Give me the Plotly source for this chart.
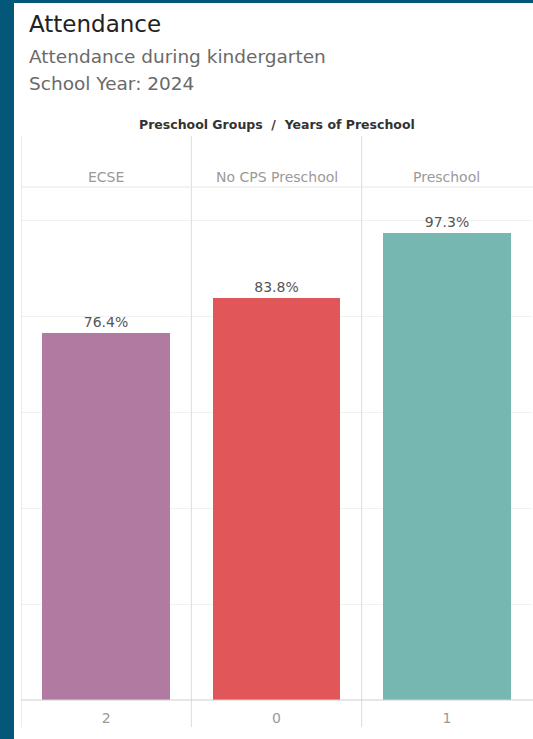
import plotly.graph_objects as go

BORDER = "#03587a"
COLORS = ["#b07aa1", "#e15759", "#76b7b2"]
GRID = "#f0f0f0"
DIVIDER = "#dcdcdc"
FONT = "DejaVu Sans"

groups = ["ECSE", "No CPS Preschool", "Preschool"]
years = ["2", "0", "1"]
attendance = [76.4, 83.8, 97.3]

W, H = 533, 739
L, R, T, B = 21, 1, 187, 39
PW, PH = W - L - R, H - T - B


def px_x(px):
    return (px - L) / PW


def px_y(py):
    return (H - B - py) / PH


pos = list(range(len(groups)))

fig = go.Figure(
    go.Bar(
        x=pos,
        y=attendance,
        width=0.75,
        marker=dict(color=COLORS, line=dict(width=0)),
        text=[f"{v:.1f}%" for v in attendance],
        textposition="outside",
        textfont=dict(size=14, color="#555555", family=FONT),
        cliponaxis=False,
        hoverinfo="skip",
    )
)

shapes = []
# column dividers
for i in range(len(groups)):
    shapes.append(dict(type="line", xref="x", yref="paper", x0=i - 0.5, x1=i - 0.5,
                       y0=px_y(727), y1=px_y(136), line=dict(color=DIVIDER, width=1)))
# header line and baseline
shapes.append(dict(type="line", xref="paper", yref="paper", x0=0, x1=px_x(W), y0=1, y1=1,
                   line=dict(color="#e6e6e6", width=1)))
shapes.append(dict(type="line", xref="paper", yref="paper", x0=0, x1=px_x(W), y0=0, y1=0,
                   line=dict(color="#d0d0d0", width=1)))
# dark frame
shapes.append(dict(type="rect", xref="paper", yref="paper", x0=px_x(0), x1=px_x(14),
                   y0=px_y(H), y1=px_y(0), fillcolor=BORDER, line=dict(width=0), layer="above"))
shapes.append(dict(type="rect", xref="paper", yref="paper", x0=px_x(0), x1=px_x(W),
                   y0=px_y(3), y1=px_y(0), fillcolor=BORDER, line=dict(width=0), layer="above"))

annotations = [
    dict(text="Attendance", xref="paper", yref="paper", x=px_x(27), y=px_y(24),
         xanchor="left", yanchor="middle", showarrow=False,
         font=dict(size=23, color="#222222", family=FONT)),
    dict(text="Attendance during kindergarten", xref="paper", yref="paper", x=px_x(27), y=px_y(56),
         xanchor="left", yanchor="middle", showarrow=False,
         font=dict(size=18.5, color="#6a6a6a", family=FONT)),
    dict(text="School Year: 2024", xref="paper", yref="paper", x=px_x(27), y=px_y(83),
         xanchor="left", yanchor="middle", showarrow=False,
         font=dict(size=18.5, color="#6a6a6a", family=FONT)),
    dict(text="<b>Preschool Groups  /  Years of Preschool</b>", xref="paper", yref="paper",
         x=0.5, y=px_y(125), xanchor="center", yanchor="middle", showarrow=False,
         font=dict(size=12.5, color="#333333", family=FONT)),
]
for i, g in enumerate(groups):
    annotations.append(dict(text=g, xref="x", yref="paper", x=i, y=px_y(177),
                            xanchor="center", yanchor="middle", showarrow=False,
                            font=dict(size=14, color="#9a9a9a", family=FONT)))

fig.update_layout(
    width=W,
    height=H,
    margin=dict(l=L, r=R, t=T, b=B),
    paper_bgcolor="white",
    plot_bgcolor="white",
    showlegend=False,
    bargap=0,
    font=dict(family=FONT),
    xaxis=dict(
        range=[-0.5, 2.5],
        tickmode="array",
        tickvals=pos,
        ticktext=years,
        ticks="",
        ticklabelstandoff=8,
        showgrid=False,
        zeroline=False,
        showline=False,
        tickfont=dict(size=14, color="#9a9a9a", family=FONT),
        fixedrange=True,
    ),
    yaxis=dict(
        range=[0, 106.9],
        dtick=20,
        showticklabels=False,
        gridcolor=GRID,
        zeroline=False,
        showline=False,
        fixedrange=True,
    ),
    shapes=shapes,
    annotations=annotations,
)

fig.write_html(
    "out.html",
    config={"displayModeBar": False},
    post_script="document.body.style.margin='0';document.body.style.overflow='hidden';",
)
